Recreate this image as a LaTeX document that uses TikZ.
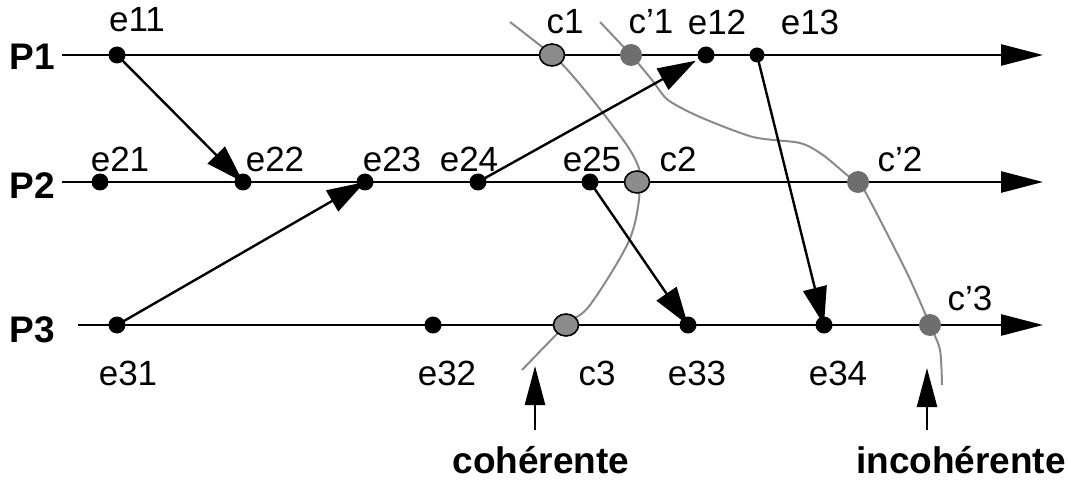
\documentclass[tikz,border=0pt]{standalone}
\usepackage{fontspec}
\setmainfont{Liberation Sans}
\usetikzlibrary{arrows.meta,shapes.geometric,calc}

\definecolor{ckgray}{HTML}{8A8A8A}
\definecolor{ckfill}{HTML}{8C8C8C}
\definecolor{ckdark}{HTML}{6E6E6E}

\tikzset{
  timeline/.style={line width=2.6pt, -{Triangle[length=42pt,width=21pt]}},
  msg/.style={line width=2.4pt, -{Triangle[length=38pt,width=24pt]}},
  marker/.style={line width=2.4pt, -{Triangle[length=39pt,width=20pt]}},
  event/.style={circle, fill=black, inner sep=0pt, minimum size=17pt},
  ckpt/.style={ellipse, draw=black, line width=1.6pt, fill=ckfill, inner sep=0pt, minimum width=25pt, minimum height=22pt},
  ckbad/.style={circle, fill=ckdark, inner sep=0pt, minimum size=22pt},
  cut/.style={draw=ckgray, line width=2pt, line join=round},
  lbl/.style={font=\fontsize{35}{35}\selectfont, inner sep=0pt},
  proc/.style={font=\fontsize{37}{37}\selectfont\bfseries, inner sep=0pt},
}

\begin{document}
\begin{tikzpicture}[x=1pt,y=-1pt]
\useasboundingbox (0,0) rectangle (1068,481);

% positions on the three process lines
\coordinate (pe11) at (117,55);
\coordinate (pc1)  at (552,55);
\coordinate (pcc1) at (631,55);
\coordinate (pe12) at (706,55);
\coordinate (pe13) at (757,55);
\coordinate (pe21) at (100,182);
\coordinate (pe22) at (243,182);
\coordinate (pe23) at (365,182);
\coordinate (pe24) at (478,182);
\coordinate (pe25) at (590,182);
\coordinate (pc2)  at (637,182);
\coordinate (pcc2) at (858,182);
\coordinate (pe31) at (117,325);
\coordinate (pe32) at (433,325);
\coordinate (pc3)  at (566,325);
\coordinate (pe33) at (688,325);
\coordinate (pe34) at (824,325);
\coordinate (pcc3) at (930,325);

% process lines
\coordinate (s1) at (62,55);   \coordinate (t1) at (1043,55);
\coordinate (s2) at (62,182);  \coordinate (t2) at (1043,182);
\coordinate (s3) at (78,325);  \coordinate (t3) at (1043,325);
\draw[timeline] (s1) -- (t1);
\draw[timeline] (s2) -- (t2);
\draw[timeline] (s3) -- (t3);

% coherent cut
\coordinate (a0) at (510,22);
\coordinate (a9) at (522,370);
\draw[cut] plot[smooth, tension=0.55] coordinates {(a0) (pc1) (572,75) (603,113) (630,150) (640,172) (pc2) (639,200) (628,243) (590,305) (pc3) (a9)};

% incoherent cut
\coordinate (b0) at (600,22);
\coordinate (b9) at (942,385);
\draw[cut] plot[smooth, tension=0.45] coordinates {(b0) (pcc1) (652,80) (668,100) (700,117) (753,137) (800,143) (823,155) (847,175) (pcc2) (867,195) (907,273) (pcc3) (940,350) (b9)};

% messages
\draw[msg] (pe11) -- (pe22);
\draw[msg] (pe24) -- ($(pe24)!0.955!(pe12)$);
\draw[msg] (pe31) -- (pe23);
\draw[msg] (pe13) -- (pe34);
\draw[msg] (pe25) -- (pe33);

% events and checkpoints
\node[event] (e11) at (pe11) {};
\node[ckpt]  (c1)  at (pc1) {};
\node[ckbad] (cc1) at (pcc1) {};
\node[event] (e12) at (pe12) {};
\node[event, minimum size=15pt] (e13) at (pe13) {};
\node[event] (e21) at (pe21) {};
\node[event] (e22) at (pe22) {};
\node[event] (e23) at (pe23) {};
\node[event] (e24) at (pe24) {};
\node[event] (e25) at (pe25) {};
\node[ckpt]  (c2)  at (pc2) {};
\node[ckbad] (cc2) at (pcc2) {};
\node[event] (e31) at (pe31) {};
\node[event] (e32) at (pe32) {};
\node[ckpt]  (c3)  at (pc3) {};
\node[event] (e33) at (pe33) {};
\node[event] (e34) at (pe34) {};
\node[ckbad] (cc3) at (pcc3) {};

% labels
\node[proc] (P1) at (32,57) {P1};
\node[proc] (P2) at (32,186) {P2};
\node[proc] (P3) at (32,330) {P3};

\node[lbl] at (137,20) {e11};
\node[lbl] at (565,22) {c1};
\node[lbl] at (651,22) {c’1};
\node[lbl] at (717,22) {e12};
\node[lbl] at (810,22) {e13};
\node[lbl] at (120,159) {e21};
\node[lbl] at (275,159) {e22};
\node[lbl] at (392,159) {e23};
\node[lbl] at (469,159) {e24};
\node[lbl] at (592,159) {e25};
\node[lbl] at (678,159) {c2};
\node[lbl] at (900,159) {c’2};
\node[lbl] at (970,298) {c’3};
\node[lbl] at (128,373) {e31};
\node[lbl] at (447,373) {e32};
\node[lbl] at (597,373) {c3};
\node[lbl] at (697,373) {e33};
\node[lbl] at (838,373) {e34};

% verdict markers
\coordinate (m1) at (535,430);
\coordinate (m2) at (927,430);
\draw[marker] (m1) -- (535,366);
\draw[marker] (m2) -- (927,368);
\node[proc] (coh) at (541,460) {cohérente};
\node[proc] (incoh) at (961,460) {incohérente};
\end{tikzpicture}
\end{document}
